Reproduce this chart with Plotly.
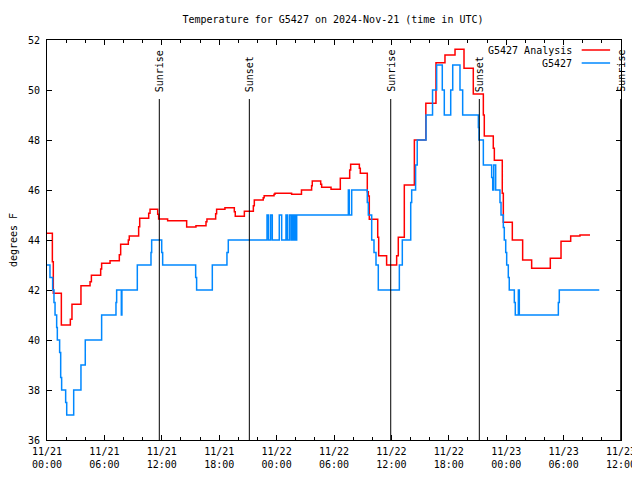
import pandas as pd
import plotly.graph_objects as go

START = pd.Timestamp("2024-11-21 00:00")

# Analysis series (hours since 11/21 00:00 UTC, degrees F)
red_hours = [0, 0.56, 0.66, 1.5, 2.44, 2.61, 3.55, 4.5, 4.64, 5.61, 5.71, 6.59, 7.56, 7.7, 8.5, 8.6, 9.58, 9.69, 10.63, 10.77,
             11.57, 11.67, 12.61, 14.6, 15.57, 16.62, 16.72, 17.63, 17.73, 18.6, 19.58, 19.68, 20.63, 21.57, 21.67, 22.6, 22.7, 23.73, 23.83, 25.57,
             26.6, 27.66, 27.73, 28.61, 28.71, 29.69, 30.66, 31.64, 31.74, 32.65, 32.75, 33.48, 33.59, 33.69, 34.57, 34.67, 35.5, 36.55, 36.72, 37.35,
             38.4, 39.6, 40.66, 41.6, 42.65, 43.59, 44.56, 45.61, 45.71, 46.65, 46.76, 47.59, 47.7, 48.64, 49.72, 50.66, 52.61, 53.73, 54.74, 55.71,
             56.76]
red_vals = [44.27, 43.13, 41.87, 40.6, 40.83, 41.43, 42.17, 42.33, 42.59, 42.84, 43.07, 43.17, 43.41, 43.83, 44.0, 44.16, 44.53, 44.87, 45.07, 45.23,
            45.03, 44.84, 44.77, 44.52, 44.57, 44.73, 44.84, 45.05, 45.23, 45.29, 45.13, 44.95, 45.15, 45.37, 45.6, 45.69, 45.77, 45.83, 45.87, 45.83,
            46.0, 46.17, 46.36, 46.23, 46.11, 46.03, 46.47, 46.8, 47.03, 46.87, 46.67, 45.93, 45.76, 44.83, 44.11, 43.37, 43.0, 43.37, 44.11, 46.2,
            48.0, 49.47, 51.09, 51.4, 51.63, 50.87, 49.84, 49.0, 48.16, 47.67, 47.19, 45.87, 44.71, 44.0, 43.2, 42.87, 43.27, 43.95, 44.16, 44.2,
            44.2]

# Observed series
blue_hours = [0, 0.31, 0.59, 0.73, 0.84, 1.01, 1.08, 1.32, 1.43, 1.53, 1.95, 2.06, 2.79, 3.55, 4.0, 5.71, 7.21, 7.28, 7.77, 7.83,
              9.44, 10.87, 10.94, 11.99, 12.09, 15.54, 15.64, 17.28, 18.81, 18.95, 23.0, 23.16, 23.38, 23.55, 24.28, 24.53, 24.98, 25.12, 25.33, 25.5,
              25.6, 25.75, 25.85, 26.0, 26.1, 31.5, 31.6, 31.85, 33.48, 33.59, 33.94, 34.18, 34.39, 34.63, 36.83, 37.14, 38.02, 38.12, 38.53, 38.7,
              39.62, 40.3, 40.73, 41.32, 41.53, 42.2, 42.41, 43.17, 43.45, 45.09, 45.16, 45.61, 46.48, 46.59, 46.7, 46.9, 47.35, 47.46, 47.7, 47.8,
              47.95, 48.05, 48.22, 48.32, 48.85, 48.95, 49.27, 49.37, 53.45, 53.55, 57.73]
blue_vals = [43, 42.5, 42, 41.5, 41, 40.5, 40, 39.5, 38.5, 38, 37.5, 37, 38, 39, 40, 41, 41.5, 42, 41, 42,
             43, 43.5, 44, 43.5, 43, 42.5, 42, 43, 43.5, 44, 45, 44, 45, 44, 45, 44, 45, 44, 45, 44,
             45, 44, 45, 44, 45, 46, 45, 46, 45.5, 45, 44, 43.5, 43, 42, 43, 44, 45.5, 46, 47, 48,
             49, 50, 51, 50, 49, 50, 51, 50, 49, 48.5, 48, 47, 46.5, 46, 47, 46, 45.5, 45, 44.5, 44,
             43.5, 43, 42.5, 42, 41.5, 41, 42, 41, 41.5, 42, 42]

sun_hours = [11.74, 21.15, 35.93, 45.19, 59.97]
sun_labels = ["Sunrise", "Sunset", "Sunrise", "Sunset", "Sunrise"]
sun_line_top = 49.64

series_names = ["G5427 Analysis", "G5427"]
series_colors = ["#ff0000", "#0088ff"]

FONT = "DejaVu Sans Mono"


def to_time(hours):
    return [START + pd.Timedelta(hours=h) for h in hours]


fig = go.Figure()
fig.add_trace(go.Scatter(x=to_time(red_hours), y=red_vals, mode="lines", line_shape="hv",
                         line=dict(color=series_colors[0], width=1.5), name=series_names[0], showlegend=False))
fig.add_trace(go.Scatter(x=to_time(blue_hours), y=blue_vals, mode="lines", line_shape="hv",
                         line=dict(color=series_colors[1], width=1.5), name=series_names[1], showlegend=False))

for h, lab in zip(sun_hours, sun_labels):
    t = START + pd.Timedelta(hours=h)
    fig.add_shape(type="line", x0=t, x1=t, y0=36, y1=sun_line_top, xref="x", yref="y",
                  line=dict(color="black", width=1))
    fig.add_annotation(x=t, y=sun_line_top, xref="x", yref="y", text=lab, textangle=-90,
                       showarrow=False, xanchor="center", yanchor="bottom", yshift=5, xshift=0,
                       font=dict(family=FONT, size=10, color="black"))

# Legend drawn gnuplot-style: text right-aligned, sample line to the right
leg_y = [1 - 10 / 400, 1 - 23 / 400]
for name, col, yy in zip(series_names, series_colors, leg_y):
    fig.add_annotation(x=0.918, y=yy, xref="paper", yref="paper", text=name, showarrow=False,
                       xanchor="right", yanchor="middle", font=dict(family=FONT, size=10, color="black"))
    fig.add_shape(type="line", x0=0.9315, x1=0.981, y0=yy, y1=yy, xref="paper", yref="paper",
                  line=dict(color=col, width=1.5))

# page body has an 8px margin (top/left), so the figure is sized to fit the window
fig.update_layout(
    width=632, height=464,
    margin=dict(l=39, r=19, t=32, b=32, autoexpand=False),
    paper_bgcolor="white", plot_bgcolor="white",
    font=dict(family=FONT, size=10, color="black"),
    title=dict(text="Temperature for G5427 on 2024-Nov-21 (time in UTC)", x=(333 - 8) / 632, xanchor="center",
               y=1 - 11 / 464, yanchor="middle", font=dict(family=FONT, size=10, color="black")),
)
fig.update_xaxes(
    type="date", automargin=False, ticklabeloverflow="allow",
    range=[START, START + pd.Timedelta(hours=60)],
    dtick=6 * 3600 * 1000, tick0=START,
    tickformat="%m/%d<br>%H:%M",
    ticks="inside", ticklen=5, tickcolor="black",
    ticklabelstandoff=2,
    minor=dict(dtick=2 * 3600 * 1000, ticks="inside", ticklen=3, tickcolor="black"),
    showline=True, linecolor="black", linewidth=1, mirror="allticks",
    showgrid=False, zeroline=False,
    tickfont=dict(family=FONT, size=10, color="black"),
)
fig.update_yaxes(
    range=[36, 52], dtick=2, tick0=36, automargin=False,
    ticks="inside", ticklen=5, tickcolor="black",
    showline=True, linecolor="black", linewidth=1, mirror="allticks",
    showgrid=False, zeroline=False,
    ticklabelstandoff=4,
    title=dict(text="degrees F", standoff=11, font=dict(family=FONT, size=10, color="black")),
    tickfont=dict(family=FONT, size=10, color="black"),
)

fig.write_html("out.html")
